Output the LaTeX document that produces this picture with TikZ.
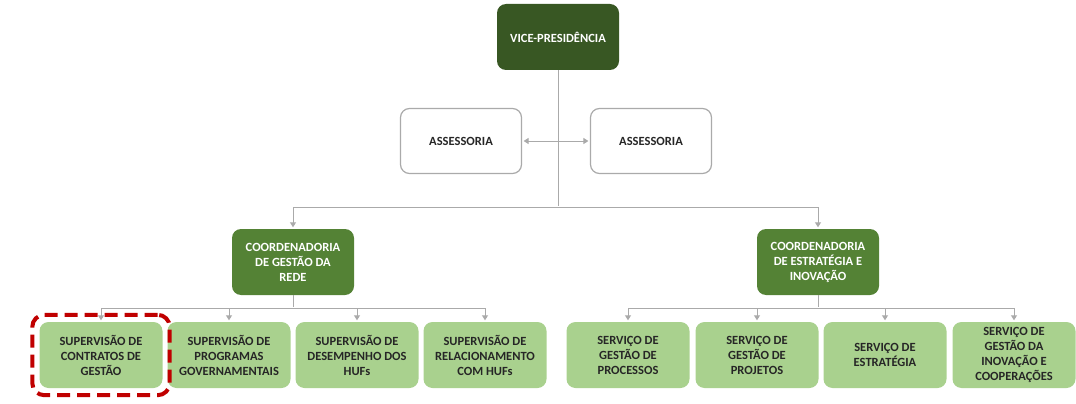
\documentclass[tikz,border=0pt]{standalone}
\usepackage{fontspec}
\setmainfont{Carlito}
\usepackage{xcolor}
\usepackage{tikz}
\usetikzlibrary{arrows.meta, positioning, fit}
\definecolor{vpgreen}{RGB}{56,87,35}
\definecolor{coordgreen}{RGB}{84,130,53}
\definecolor{lightgreen}{RGB}{169,209,142}
\definecolor{linegray}{RGB}{170,170,170}
\definecolor{textgray}{RGB}{38,38,38}
\definecolor{focusred}{RGB}{192,0,0}

\begin{document}
\begin{tikzpicture}[
    x=1pt, y=-1pt,
    >={Triangle[length=5pt, width=6pt]},
    orgbox/.style={rounded corners=9pt, minimum width=122pt, minimum height=66pt, inner sep=2pt, align=center, font=\fontsize{12.5}{15}\selectfont\bfseries},
    topbox/.style={orgbox, fill=vpgreen, text=white},
    advbox/.style={orgbox, draw=linegray, line width=1.2pt, fill=white, text=textgray, minimum width=121pt, minimum height=65pt},
    coordbox/.style={orgbox, fill=coordgreen, text=white},
    unitbox/.style={orgbox, fill=lightgreen, text=textgray, minimum width=123pt},
    conn/.style={draw=linegray, line width=1pt, shorten >=1.5pt},
    focus/.style={draw=focusred, line width=4pt, dash pattern=on 13pt off 7pt, rounded corners=12pt},
]
    \useasboundingbox (0,0) rectangle (1076,404);

    % top and advisors
    \node[topbox] (vp) at (558,37) {VICE-PRESIDÊNCIA};
    \node[advbox] (as1) at (461,141) {ASSESSORIA};
    \node[advbox] (as2) at (651,141) {ASSESSORIA};

    % coordinations
    \node[coordbox] (cgr) at (293,262) {COORDENADORIA\\DE GESTÃO DA\\REDE};
    \node[coordbox] (cei) at (818,262) {COORDENADORIA\\DE ESTRATÉGIA E\\INOVAÇÃO};

    % units under each coordination
    \node[unitbox] (s1) at (101,355) {SUPERVISÃO DE\\CONTRATOS DE\\GESTÃO};
    \node[unitbox] (s2) at (229,355) {SUPERVISÃO DE\\PROGRAMAS\\GOVERNAMENTAIS};
    \node[unitbox] (s3) at (357,355) {SUPERVISÃO DE\\DESEMPENHO DOS\\HUFs};
    \node[unitbox] (s4) at (485,355) {SUPERVISÃO DE\\RELACIONAMENTO\\COM HUFs};
    \node[unitbox] (v1) at (628,355) {SERVIÇO DE\\GESTÃO DE\\PROCESSOS};
    \node[unitbox] (v2) at (757,355) {SERVIÇO DE\\GESTÃO DE\\PROJETOS};
    \node[unitbox] (v3) at (885,355) {SERVIÇO DE\\ESTRATÉGIA};
    \node[unitbox] (v4) at (1014,355) {SERVIÇO DE\\GESTÃO DA\\INOVAÇÃO E\\COOPERAÇÕES};

    \node[focus, fit=(s1), inner sep=7pt] (destaque) {};

    % connectors
    \coordinate (jtop) at (558,207);
    \coordinate (jl) at (293,308);
    \coordinate (jr) at (818,308);
    \draw[conn, <->, shorten <=1.5pt] (as1) -- (as2);
    \draw[conn] (vp) -- (jtop);
    \draw[conn, ->] (jtop) -| (cgr);
    \draw[conn, ->] (jtop) -| (cei);
    \draw[conn] (cgr) -- (jl);
    \draw[conn] (cei) -- (jr);
    \foreach \u in {s1, s2, s3, s4}
        \draw[conn, ->] (jl) -| (\u);
    \foreach \u in {v1, v2, v3, v4}
        \draw[conn, ->] (jr) -| (\u);
\end{tikzpicture}
\end{document}
